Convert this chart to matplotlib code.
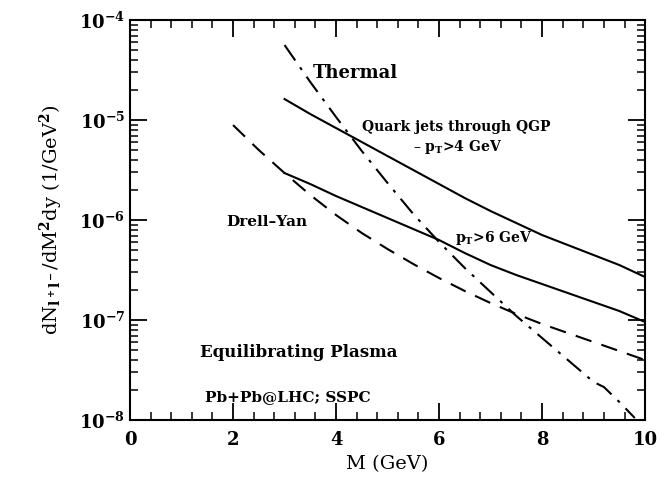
import matplotlib
matplotlib.use('Agg')
import matplotlib.pyplot as plt
from matplotlib.ticker import LogLocator, MultipleLocator, LogFormatterMathtext, NullFormatter
import numpy as np

plt.rcParams['font.family'] = 'DejaVu Serif'
plt.rcParams['font.weight'] = 'bold'
plt.rcParams['mathtext.fontset'] = 'dejavuserif'
plt.rcParams['mathtext.default'] = 'bf'

# log10 of dN/dM^2dy
thermal_m = [3.0, 3.5, 4.0, 4.5, 5.0, 5.5, 6.0, 6.5, 7.0, 7.5, 8.0, 8.5, 9.0, 9.2, 9.5, 9.8]
thermal_lg = [-4.25, -4.62, -4.97, -5.31, -5.63, -5.94, -6.22, -6.48, -6.72, -6.96, -7.18, -7.40, -7.62, -7.67, -7.82, -7.98]

jets4_m = [3.0, 3.5, 4.0, 4.5, 5.0, 5.5, 6.0, 6.5, 7.0, 7.5, 8.0, 8.5, 9.0, 9.5, 10.0]
jets4_lg = [-4.79, -4.94, -5.08, -5.22, -5.36, -5.50, -5.64, -5.78, -5.91, -6.03, -6.15, -6.25, -6.35, -6.45, -6.57]

jets6_m = [3.0, 3.5, 4.0, 4.5, 5.0, 5.5, 6.0, 6.5, 7.0, 7.5, 8.0, 8.5, 9.0, 9.5, 10.0]
jets6_lg = [-5.53, -5.64, -5.76, -5.87, -5.98, -6.09, -6.20, -6.33, -6.45, -6.55, -6.64, -6.73, -6.82, -6.91, -7.02]

dy_m = [2.0, 2.5, 3.0, 3.5, 4.0, 4.5, 5.0, 5.5, 6.0, 6.5, 7.0, 7.5, 8.0, 8.5, 9.0, 9.5, 10.0]
dy_lg = [-5.05, -5.30, -5.53, -5.75, -5.95, -6.13, -6.29, -6.44, -6.58, -6.71, -6.83, -6.94, -7.04, -7.13, -7.22, -7.31, -7.40]

fig = plt.figure(figsize=(6.72, 4.78), dpi=100)
ax = fig.add_axes([0.1935, 0.1213, 0.7665, 0.8367])

lw = 1.5
ax.plot(thermal_m, 10 ** np.array(thermal_lg), color='black', lw=lw, dashes=(9, 4, 1.5, 4))
ax.plot(jets4_m, 10 ** np.array(jets4_lg), color='black', lw=lw)
ax.plot(jets6_m, 10 ** np.array(jets6_lg), color='black', lw=lw)
ax.plot(dy_m, 10 ** np.array(dy_lg), color='black', lw=lw, dashes=(8, 5))

ax.set_xlim(0, 10)
ax.set_ylim(1e-8, 1e-4)
ax.set_yscale('log')

ax.xaxis.set_major_locator(MultipleLocator(2))
ax.xaxis.set_minor_locator(MultipleLocator(0.4))
ax.yaxis.set_major_locator(LogLocator(base=10))
ax.yaxis.set_minor_locator(LogLocator(base=10, subs=np.arange(2, 10)))
ax.yaxis.set_major_formatter(LogFormatterMathtext())
ax.yaxis.set_minor_formatter(NullFormatter())

ax.tick_params(which='both', direction='in', top=True, right=True, labelsize=13)
ax.tick_params(which='major', length=12, width=1.3)
ax.tick_params(which='minor', length=6, width=1.1)
ax.tick_params(axis='x', pad=8)
for s in ax.spines.values():
    s.set_linewidth(1.5)

ax.set_xlabel('M (GeV)', fontsize=14, labelpad=4)
ax.set_ylabel(r'dN$_{l^+l^-}$/dM$^2$dy (1/GeV$^2$)', fontsize=14, labelpad=10)

ax.text(3.55, 10 ** -4.53, 'Thermal', fontsize=13, va='center')
ax.text(4.5, 10 ** -5.07, 'Quark jets through QGP', fontsize=10, va='center')
ax.text(5.5, 10 ** -5.27, r'– p$_T$>4 GeV', fontsize=10, va='center')
ax.text(1.87, 10 ** -6.02, 'Drell–Yan', fontsize=11, va='center')
ax.text(6.3, 10 ** -6.18, r'p$_T$>6 GeV', fontsize=10, va='center')
ax.text(1.36, 10 ** -7.32, 'Equilibrating Plasma', fontsize=12, va='center')
ax.text(1.45, 10 ** -7.77, 'Pb+Pb@LHC; SSPC', fontsize=11, va='center')

fig.savefig('out.png', dpi=100)
